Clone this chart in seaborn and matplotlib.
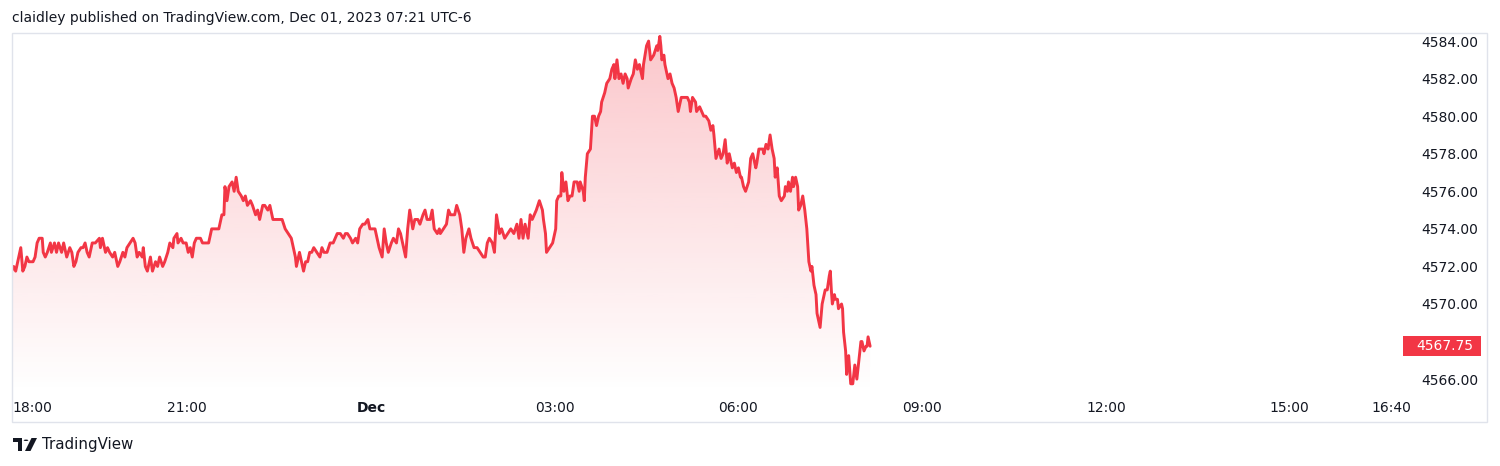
import numpy as np
import pandas as pd
import matplotlib
matplotlib.use("Agg")
import matplotlib.pyplot as plt
import matplotlib.transforms as mtransforms
from matplotlib.patches import Rectangle, Polygon, Circle
import seaborn as sns

# ---------------- data (minutes after 18:00 on Nov 30, price) ----------------
minutes = [8, 10, 12, 15, 17, 19, 21, 23, 25, 29, 31, 33, 35, 38, 39, 41, 43, 46, 47, 50,
           52, 54, 57, 59, 62, 65, 67, 69, 71, 73, 76, 78, 80, 82, 84, 87, 90, 94, 95, 97,
           100, 102, 104, 107, 109, 112, 114, 117, 119, 121, 124, 127, 129, 131, 133, 136, 137, 139, 141, 144,
           146, 149, 151, 153, 156, 158, 161, 163, 166, 167, 170, 171, 174, 176, 179, 181, 183, 185, 187, 189,
           193, 195, 201, 202, 204, 211, 214, 216, 217, 219, 221, 224, 226, 228, 230, 233, 235, 237, 239, 242,
           244, 247, 249, 251, 254, 256, 259, 261, 264, 267, 273, 276, 279, 282, 284, 286, 287, 290, 292, 294,
           296, 298, 300, 302, 304, 307, 310, 312, 314, 317, 320, 323, 325, 327, 330, 333, 335, 337, 340, 342,
           345, 347, 349, 352, 354, 357, 359, 364, 366, 368, 371, 373, 375, 377, 380, 382, 385, 387, 389, 391,
           394, 396, 398, 401, 403, 406, 408, 411, 413, 415, 418, 420, 422, 425, 427, 428, 431, 434, 436, 438,
           442, 444, 447, 449, 451, 453, 456, 458, 461, 464, 467, 470, 472, 474, 476, 479, 481, 483, 486, 488,
           491, 494, 497, 500, 503, 505, 507, 509, 511, 514, 516, 518, 520, 522, 525, 528, 529, 531, 532, 535,
           538, 541, 542, 544, 546, 547, 549, 551, 553, 555, 557, 559, 562, 564, 565, 568, 569, 570, 572, 575,
           577, 579, 581, 583, 585, 586, 589, 591, 594, 596, 598, 599, 601, 603, 605, 607, 609, 611, 612, 615,
           617, 619, 621, 623, 626, 627, 630, 632, 634, 637, 640, 641, 643, 644, 645, 647, 648, 651, 653, 655,
           657, 659, 661, 664, 670, 672, 673, 675, 678, 679, 682, 684, 686, 688, 691, 693, 695, 696, 698, 701,
           703, 705, 707, 709, 711, 714, 716, 718, 720, 722, 723, 725, 727, 730, 732, 734, 737, 738, 740, 744,
           745, 747, 749, 751, 753, 755, 756, 758, 760, 762, 765, 766, 768, 769, 771, 773, 774, 776, 778, 779,
           781, 783, 785, 787, 789, 791, 792, 794, 796, 797, 800, 802, 805, 807, 809, 810, 811, 812, 814, 815,
           817, 818, 821, 822, 823, 825, 826, 828, 830, 832, 834, 836, 838, 840, 841, 843, 845, 846, 847, 849]

prices = [4571.75, 4572.0, 4571.75, 4572.5, 4573.0, 4571.75, 4572.0, 4572.5, 4572.25, 4572.25,
          4572.5, 4573.25, 4573.5, 4573.5, 4572.75, 4572.5, 4572.75, 4573.25, 4572.75, 4573.25,
          4572.75, 4573.25, 4572.75, 4573.25, 4572.5, 4573.0, 4572.75, 4572.0, 4572.25, 4572.75,
          4573.0, 4573.0, 4573.25, 4572.75, 4572.5, 4573.25, 4573.25, 4573.5, 4573.0, 4573.5,
          4572.75, 4573.0, 4572.75, 4572.5, 4572.75, 4572.0, 4572.25, 4572.75, 4572.5, 4573.0,
          4573.25, 4573.5, 4573.25, 4572.5, 4572.75, 4572.5, 4573.0, 4572.0, 4571.75, 4572.5,
          4571.75, 4572.25, 4572.0, 4572.5, 4572.0, 4572.25, 4572.75, 4573.25, 4573.0, 4573.5,
          4573.75, 4573.25, 4573.5, 4573.25, 4573.25, 4572.75, 4573.0, 4572.5, 4573.25, 4573.5,
          4573.5, 4573.25, 4573.25, 4573.5, 4574.0, 4574.0, 4574.75, 4574.75, 4576.25, 4575.5,
          4576.25, 4576.5, 4576.0, 4576.75, 4576.0, 4575.75, 4575.5, 4575.75, 4575.25, 4575.5,
          4575.25, 4574.75, 4575.0, 4574.5, 4575.25, 4575.25, 4575.0, 4575.25, 4574.5, 4574.5,
          4574.5, 4574.0, 4573.75, 4573.5, 4573.0, 4572.5, 4572.0, 4572.75, 4572.25, 4571.75,
          4572.25, 4572.25, 4572.75, 4572.75, 4573.0, 4572.75, 4572.5, 4573.0, 4572.75, 4572.75,
          4573.25, 4573.25, 4573.5, 4573.75, 4573.75, 4573.5, 4573.75, 4573.75, 4573.5, 4573.25,
          4573.5, 4573.25, 4574.0, 4574.25, 4574.25, 4574.5, 4574.0, 4574.0, 4573.5, 4573.0,
          4572.5, 4574.0, 4573.25, 4572.75, 4573.25, 4573.5, 4573.25, 4574.0, 4573.75, 4573.25,
          4572.5, 4574.0, 4575.0, 4574.0, 4574.5, 4574.5, 4574.25, 4574.75, 4575.0, 4574.5,
          4574.5, 4575.0, 4574.0, 4573.75, 4574.0, 4573.75, 4574.0, 4574.25, 4575.0, 4574.75,
          4574.75, 4575.25, 4574.75, 4574.0, 4572.75, 4573.5, 4574.0, 4573.5, 4573.0, 4573.0,
          4572.75, 4572.5, 4572.5, 4573.25, 4573.5, 4573.25, 4572.75, 4574.75, 4573.75, 4574.0,
          4573.5, 4573.75, 4574.0, 4573.75, 4574.25, 4573.5, 4574.5, 4573.5, 4574.25, 4573.5,
          4574.75, 4574.5, 4574.75, 4575.0, 4575.5, 4575.0, 4574.5, 4573.75, 4572.75, 4573.0,
          4573.25, 4574.0, 4575.5, 4575.75, 4575.75, 4577.0, 4576.0, 4576.5, 4575.5, 4575.75,
          4575.75, 4576.5, 4576.5, 4576.0, 4576.5, 4576.0, 4575.5, 4576.75, 4578.0, 4578.25,
          4580.0, 4580.0, 4579.5, 4580.0, 4580.25, 4580.75, 4581.25, 4581.75, 4582.0, 4582.5,
          4582.75, 4582.0, 4583.0, 4582.0, 4582.25, 4581.75, 4582.25, 4582.0, 4581.5, 4582.0,
          4582.25, 4583.0, 4582.5, 4582.75, 4582.0, 4582.75, 4583.75, 4584.0, 4583.0, 4583.25,
          4583.75, 4583.5, 4584.25, 4583.75, 4583.0, 4583.25, 4582.75, 4582.0, 4582.25, 4581.75,
          4581.5, 4581.0, 4580.25, 4581.0, 4581.0, 4580.75, 4580.25, 4581.0, 4580.75, 4580.25,
          4580.5, 4580.25, 4580.0, 4580.0, 4579.75, 4579.25, 4579.5, 4579.0, 4577.75, 4578.25,
          4577.75, 4578.0, 4578.75, 4577.5, 4578.0, 4577.25, 4577.5, 4577.0, 4577.25, 4576.75,
          4576.75, 4576.25, 4576.0, 4576.5, 4577.75, 4578.0, 4577.25, 4577.5, 4578.25, 4578.25,
          4578.0, 4578.5, 4578.25, 4579.0, 4578.25, 4577.75, 4576.75, 4577.25, 4575.75, 4575.5,
          4575.75, 4576.25, 4576.0, 4576.5, 4576.0, 4576.75, 4576.25, 4576.75, 4576.25, 4575.0,
          4575.25, 4575.75, 4575.0, 4574.0, 4572.25, 4571.75, 4572.0, 4571.0, 4570.5, 4569.5,
          4568.75, 4570.0, 4570.75, 4570.75, 4571.5, 4571.75, 4570.75, 4570.0, 4570.5, 4570.25,
          4570.25, 4569.75, 4570.0, 4569.75, 4568.5, 4567.5, 4566.25, 4567.25, 4565.75, 4565.75,
          4566.75, 4566.0, 4567.0, 4568.0, 4568.0, 4567.5, 4567.75, 4567.75, 4568.25, 4567.75]

time_tick_minutes = [180, 360, 540, 720, 900, 1080, 1260, 1360]
time_tick_labels = ["21:00", "Dec", "03:00", "06:00", "09:00", "12:00", "15:00", "16:40"]
first_time_label = "18:00"
price_ticks = [4566, 4568, 4570, 4572, 4574, 4576, 4578, 4580, 4582, 4584]
shown_price_ticks = [t for t in price_ticks if t != 4568]
title_text = "claidley published on TradingView.com, Dec 01, 2023 07:21 UTC-6"
brand_text = "TradingView"

# ---------------- style ----------------
sns.set_theme(style="white")
plt.rcParams['font.family'] = ['DejaVu Sans']
RED = "#F23645"
TXT = "#131722"
FRAME = "#E0E3EB"

W, H = 1500, 466
fig = plt.figure(figsize=(W / 100, H / 100), dpi=100)
fig.patch.set_facecolor("white")


def fx(px):
    return px / W


def fy(py):
    return 1 - py / H


ax = fig.add_axes([fx(12), fy(393), fx(1403) - fx(12), fy(33) - fy(393)])
ax.set_facecolor("none")

XMIN, XMAX = 8.4, 1371
YMIN, YMAX = 4565.26, 4584.43
ax.set_xlim(XMIN, XMAX)
ax.set_ylim(YMIN, YMAX)

df = pd.DataFrame({"minute": minutes, "price": prices})

# gradient area under the line
top = max(prices)
n = 256
rgba = np.zeros((n, 1, 4))
rgba[..., :3] = matplotlib.colors.to_rgb(RED)
rgba[:, 0, 3] = np.linspace(0.0, 0.28, n)
im = ax.imshow(rgba, extent=[XMIN, XMAX, YMIN, top], origin="lower",
               aspect="auto", interpolation="bilinear", zorder=1)
poly = ax.fill_between(df["minute"], df["price"], YMIN, color="none", linewidth=0)
im.set_clip_path(poly.get_paths()[0], transform=ax.transData)
ax.set_xlim(XMIN, XMAX)
ax.set_ylim(YMIN, YMAX)

sns.lineplot(data=df, x="minute", y="price", ax=ax, color=RED, linewidth=2.1,
             estimator=None, sort=False, legend=False, zorder=3)

for s in ax.spines.values():
    s.set_visible(False)
ax.set_xlabel("")
ax.set_ylabel("")
ax.grid(False)

# y axis on the right (the 4568 label is hidden behind the last-price badge)
ax.yaxis.tick_right()
ax.set_yticks(shown_price_ticks)
ax.set_yticklabels([f"{v:.2f}" for v in shown_price_ticks])
ax.tick_params(axis="y", length=0, pad=13, labelsize=10, labelcolor=TXT)

# x axis
ax.set_xticks([XMIN] + time_tick_minutes)
ax.set_xticklabels([first_time_label] + time_tick_labels)
ax.tick_params(axis="x", length=0, pad=6, labelsize=10, labelcolor=TXT)
xl = ax.get_xticklabels()
xl[0].set_ha("left")
for t in xl:
    if t.get_text() == "Dec":
        t.set_fontweight("bold")

# last price badge
last_price = prices[-1]
blend = mtransforms.blended_transform_factory(ax.transAxes, ax.transData)
ax_w_px = 1403 - 12
ppu = (393 - 33) / (YMAX - YMIN)
badge_h = 20 / ppu
ax.add_patch(Rectangle((1.0, last_price - badge_h / 2), 78 / ax_w_px, badge_h,
                       transform=blend, facecolor=RED, edgecolor="none",
                       clip_on=False, zorder=5))
ax.text(1.0 + 13 / ax_w_px, last_price, f"{last_price:.2f}", transform=blend,
        ha="left", va="center", color="white", fontsize=10, zorder=6, clip_on=False)

# outer frame
fig.patches.append(Rectangle((fx(12), fy(422)), fx(1487) - fx(12), fy(33) - fy(422),
                             transform=fig.transFigure, fill=False,
                             edgecolor=FRAME, linewidth=1))

# header text
fig.text(fx(12), fy(18), title_text, fontsize=10, color=TXT, ha="left", va="center")

# brand logo + text
def P(x, y):
    return (fx(x), fy(y))

fig.patches.append(Polygon([P(12.7, 438), P(22.3, 438), P(22.3, 451), P(17.8, 451),
                            P(17.8, 442.3), P(12.7, 442.3)], closed=True,
                           transform=fig.transFigure, facecolor=TXT, edgecolor="none"))
fig.patches.append(Circle(P(26.0, 440.3), 2.3 / W, transform=fig.transFigure,
                          facecolor=TXT, edgecolor="none"))
fig.patches.append(Polygon([P(31.5, 438), P(37.0, 438), P(30.5, 451), P(25.0, 451)],
                           closed=True, transform=fig.transFigure,
                           facecolor=TXT, edgecolor="none"))
fig.text(fx(42), fy(445), brand_text, fontsize=10.8, color=TXT, ha="left", va="center")

fig.savefig("out.png", dpi=100, facecolor="white")
